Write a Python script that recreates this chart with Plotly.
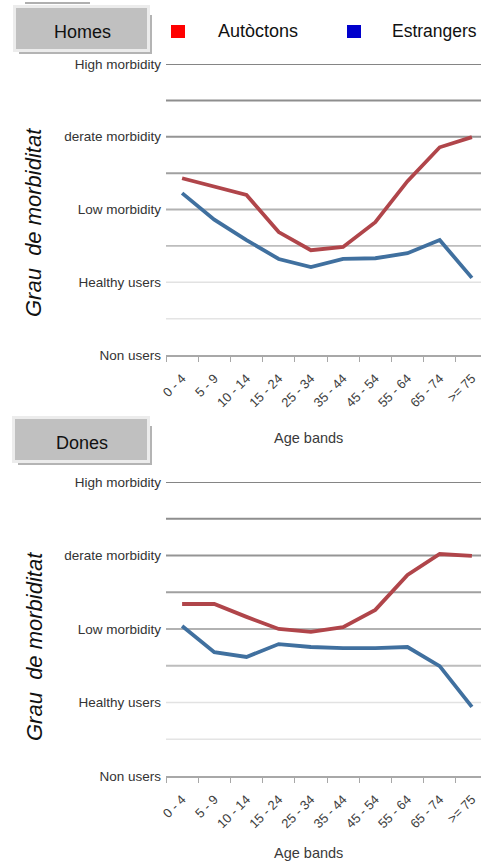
import plotly.graph_objects as go

W, H = 481, 863

age_bands = ["0 - 4", "5 - 9", "10 - 14", "15 - 24", "25 - 34",
             "35 - 44", "45 - 54", "55 - 64", "65 - 74", ">= 75"]
level_vals = [0, 2, 4, 6, 8]
level_labels = ["Non users", "Healthy users", "Low morbidity",
                "derate morbidity", "High morbidity"]

homes_autoctons = [4.86, 4.64, 4.40, 3.38, 2.88, 2.97, 3.65, 4.78, 5.71, 5.99]
homes_estrangers = [4.45, 3.72, 3.16, 2.64, 2.42, 2.64, 2.66, 2.80, 3.16, 2.12]
dones_autoctons = [4.68, 4.68, 4.33, 4.00, 3.92, 4.05, 4.52, 5.47, 6.04, 5.99]
dones_estrangers = [4.08, 3.37, 3.24, 3.59, 3.51, 3.48, 3.48, 3.51, 2.99, 1.88]

RED = "#b0454a"
BLUE = "#40709f"
SANS = "Liberation Sans, Arial, sans-serif"


def px(x):
    return x / W


def py(y):
    return (H - y) / H


fig = go.Figure()

panels = [
    ("x", "y", homes_autoctons, homes_estrangers),
    ("x2", "y2", dones_autoctons, dones_estrangers),
]
for xa, ya, aut, est in panels:
    fig.add_trace(go.Scatter(x=age_bands, y=aut, mode="lines", xaxis=xa, yaxis=ya,
                             line=dict(color=RED, width=3.8), showlegend=False,
                             hoverinfo="skip"))
    fig.add_trace(go.Scatter(x=age_bands, y=est, mode="lines", xaxis=xa, yaxis=ya,
                             line=dict(color=BLUE, width=3.8), showlegend=False,
                             hoverinfo="skip"))

# plot geometry (pixels)
top_dom = (355, 64)
bot_dom = (776, 482)
x_left = 166
xrange = [-0.5, -0.5 + (W - x_left) / 32.2]

xaxis_common = dict(
    type="category", range=xrange, domain=[px(x_left), 1], automargin=False,
    showline=True, linecolor="#a8a8a8", linewidth=1.5,
    ticks="outside", ticklen=5, tickcolor="#a8a8a8", tickwidth=1.2,
    tickson="boundaries", tickangle=-45, showgrid=False, zeroline=False,
    ticklabelstandoff=9,
    tickfont=dict(family=SANS, size=13, color="#404040"),
)
yaxis_common = dict(
    range=[0, 8], tickvals=level_vals, ticktext=level_labels, automargin=False,
    showgrid=False, zeroline=False, showline=False, ticks="",
    ticklabelstandoff=4,
    tickfont=dict(family=SANS, size=13.5, color="#333333"),
)

fig.update_layout(
    width=W, height=H,
    margin=dict(l=0, r=0, t=0, b=0, pad=0),
    paper_bgcolor="white", plot_bgcolor="white",
    xaxis=dict(**xaxis_common, anchor="y"),
    yaxis=dict(**yaxis_common, domain=[py(top_dom[0]), py(top_dom[1])], anchor="x"),
    xaxis2=dict(**xaxis_common, anchor="y2"),
    yaxis2=dict(**yaxis_common, domain=[py(bot_dom[0]), py(bot_dom[1])], anchor="x2"),
)

# horizontal grid lines with fading grey
grid_style = {1: ("#e4e4e4", 1.5), 2: ("#e2e2e2", 1.5), 3: ("#bdbdbd", 1.8),
              4: ("#b2b2b2", 1.8), 5: ("#a0a0a0", 2), 6: ("#959595", 2),
              7: ("#8e8e8e", 2), 8: ("#858585", 2)}
shapes = []
for ya in ["y", "y2"]:
    for lvl, (col, w) in grid_style.items():
        shapes.append(dict(type="line", xref="paper", yref=ya,
                           x0=px(x_left), x1=1, y0=lvl, y1=lvl,
                           line=dict(color=col, width=w), layer="below"))


def label_box(x0, y0, x1, y1):
    out = []
    # shadow
    out.append(dict(type="rect", xref="paper", yref="paper",
                    x0=px(x0 + 3), x1=px(x1 + 5), y0=py(y1 + 5), y1=py(y0 + 7),
                    fillcolor="#b4b4b4", line=dict(width=0), layer="above"))
    # light frame
    out.append(dict(type="rect", xref="paper", yref="paper",
                    x0=px(x0 - 3), x1=px(x1 + 3), y0=py(y1 + 3), y1=py(y0 - 3),
                    fillcolor="#ececec", line=dict(width=0), layer="above"))
    # grey fill
    out.append(dict(type="rect", xref="paper", yref="paper",
                    x0=px(x0), x1=px(x1), y0=py(y1), y1=py(y0),
                    fillcolor="#c0c0c0", line=dict(width=0), layer="above"))
    return out


shapes += label_box(16, 8, 147, 49)
shapes += label_box(15, 419, 147, 460)
# small fragment line at top-left
shapes.append(dict(type="line", xref="paper", yref="paper",
                   x0=px(25), x1=px(90), y0=py(3), y1=py(3),
                   line=dict(color="#b0b0b0", width=2)))
# legend squares
shapes.append(dict(type="rect", xref="paper", yref="paper",
                   x0=px(171), x1=px(185), y0=py(38), y1=py(25),
                   fillcolor="#ff0000", line=dict(width=0)))
shapes.append(dict(type="rect", xref="paper", yref="paper",
                   x0=px(347), x1=px(361), y0=py(38), y1=py(25),
                   fillcolor="#0000cc", line=dict(width=0)))
fig.update_layout(shapes=shapes)

ann = []
ann.append(dict(text="Homes", x=px(82), y=py(32), xref="paper", yref="paper",
                showarrow=False, xanchor="center", yanchor="middle",
                font=dict(family=SANS, size=18, color="#111111")))
ann.append(dict(text="Dones", x=px(82), y=py(443), xref="paper", yref="paper",
                showarrow=False, xanchor="center", yanchor="middle",
                font=dict(family=SANS, size=18, color="#111111")))
ann.append(dict(text="Autòctons", x=px(216), y=py(31), xref="paper", yref="paper",
                showarrow=False, xanchor="left", yanchor="middle",
                font=dict(family=SANS, size=18, color="#111111")))
ann.append(dict(text="Estrangers", x=px(390), y=py(31), xref="paper", yref="paper",
                showarrow=False, xanchor="left", yanchor="middle",
                font=dict(family=SANS, size=17.5, color="#111111")))
for yc in (223, 647):
    ann.append(dict(text="Grau  de morbiditat", x=px(34), y=py(yc),
                    xref="paper", yref="paper", showarrow=False, textangle=-90,
                    xanchor="center", yanchor="middle",
                    font=dict(family=SANS, size=22, color="#111111", style="italic")))
for yc in (438, 853):
    ann.append(dict(text="Age bands", x=px(308), y=py(yc), xref="paper", yref="paper",
                    showarrow=False, xanchor="center", yanchor="middle",
                    font=dict(family=SANS, size=14.5, color="#3a3a3a")))
fig.update_layout(annotations=ann)

fig.write_html(
    "out.html",
    config={"displayModeBar": False},
    post_script="document.body.style.margin='0';document.body.style.overflow='hidden';",
)
